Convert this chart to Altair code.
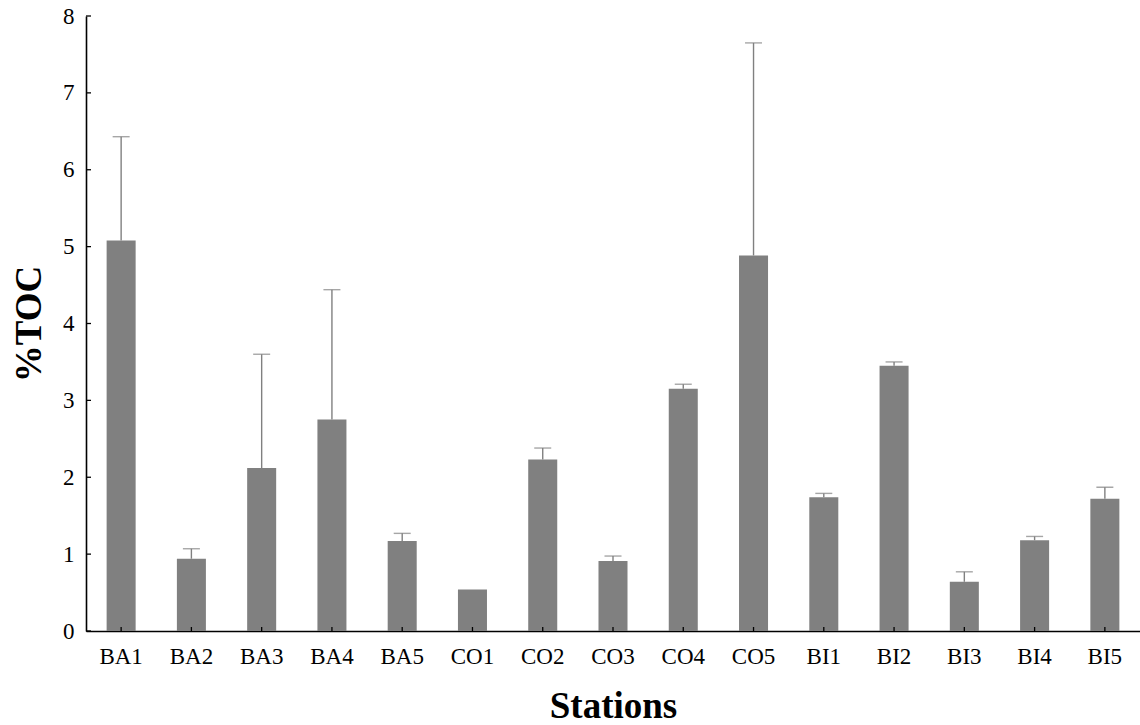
import altair as alt
import pandas as pd

stations = ["BA1", "BA2", "BA3", "BA4", "BA5", "CO1", "CO2", "CO3", "CO4", "CO5",
            "BI1", "BI2", "BI3", "BI4", "BI5"]
toc = [5.08, 0.94, 2.12, 2.75, 1.17, 0.54, 2.23, 0.91, 3.15, 4.885, 1.74, 3.45, 0.64, 1.18, 1.72]
sd = [1.35, 0.13, 1.48, 1.69, 0.10, 0.0, 0.15, 0.065, 0.06, 2.765, 0.05, 0.05, 0.13, 0.05, 0.15]
y_ticks = [0, 1, 2, 3, 4, 5, 6, 7, 8]

df = pd.DataFrame({"station": stations, "toc": toc, "sd": sd})
df["upper"] = df["toc"] + df["sd"]
err = df[df["sd"] > 0]
ticks_df = pd.DataFrame({"t": y_ticks})

FONT = "Liberation Serif"
W, H = 1054, 615
GRAY = "#808080"

xscale = alt.Scale(domain=stations, paddingInner=0.587, paddingOuter=0.2935)
yscale = alt.Scale(domain=[0, 8], nice=False, zero=True)

xaxis = alt.Axis(title="Stations", labelAngle=0, ticks=False, labelPadding=14,
                 titleY=86, titleBaseline="alphabetic", titleFontSize=37,
                 titleFontWeight="bold", grid=False)
yaxis = alt.Axis(title="%TOC", values=y_ticks, ticks=False, grid=False, labelPadding=12,
                 titleX=-46, titleBaseline="alphabetic", titleFontSize=37,
                 titleFontWeight="bold", titleAngle=270)

X = alt.X("station:N", scale=xscale, axis=xaxis, sort=stations)

bars = alt.Chart(df).mark_bar(color=GRAY).encode(
    x=X,
    y=alt.Y("toc:Q", scale=yscale, axis=yaxis),
)

stems = alt.Chart(err).mark_rule(color=GRAY, strokeWidth=1.4).encode(
    x=X,
    y=alt.Y("toc:Q", scale=yscale, axis=yaxis),
    y2="upper:Q",
)

caps = alt.Chart(err).mark_tick(color=GRAY, size=17, thickness=1.4).encode(
    x=X,
    y=alt.Y("upper:Q", scale=yscale, axis=yaxis),
)

xticks = alt.Chart(df).mark_rule(color="black", strokeWidth=1.3).encode(
    x=X,
    y=alt.value(H),
    y2=alt.value(H - 4),
)

yticks = alt.Chart(ticks_df).mark_rule(color="black", strokeWidth=1.3).encode(
    y=alt.Y("t:Q", scale=yscale, axis=yaxis),
    x=alt.value(0),
    x2=alt.value(5),
)

chart = alt.layer(bars, stems, caps, xticks, yticks).properties(
    width=W, height=H,
    autosize=alt.AutoSizeParams(type="none"),
    padding={"left": 86, "top": 16, "right": 0, "bottom": 94},
).configure(background="white").configure_view(stroke=None).configure_axis(
    labelFont=FONT, titleFont=FONT, labelFontSize=23, labelColor="black",
    titleColor="black", domainColor="black", domainWidth=1.6,
)

chart.save("out.html", embed_options={"renderer": "svg", "actions": False})
